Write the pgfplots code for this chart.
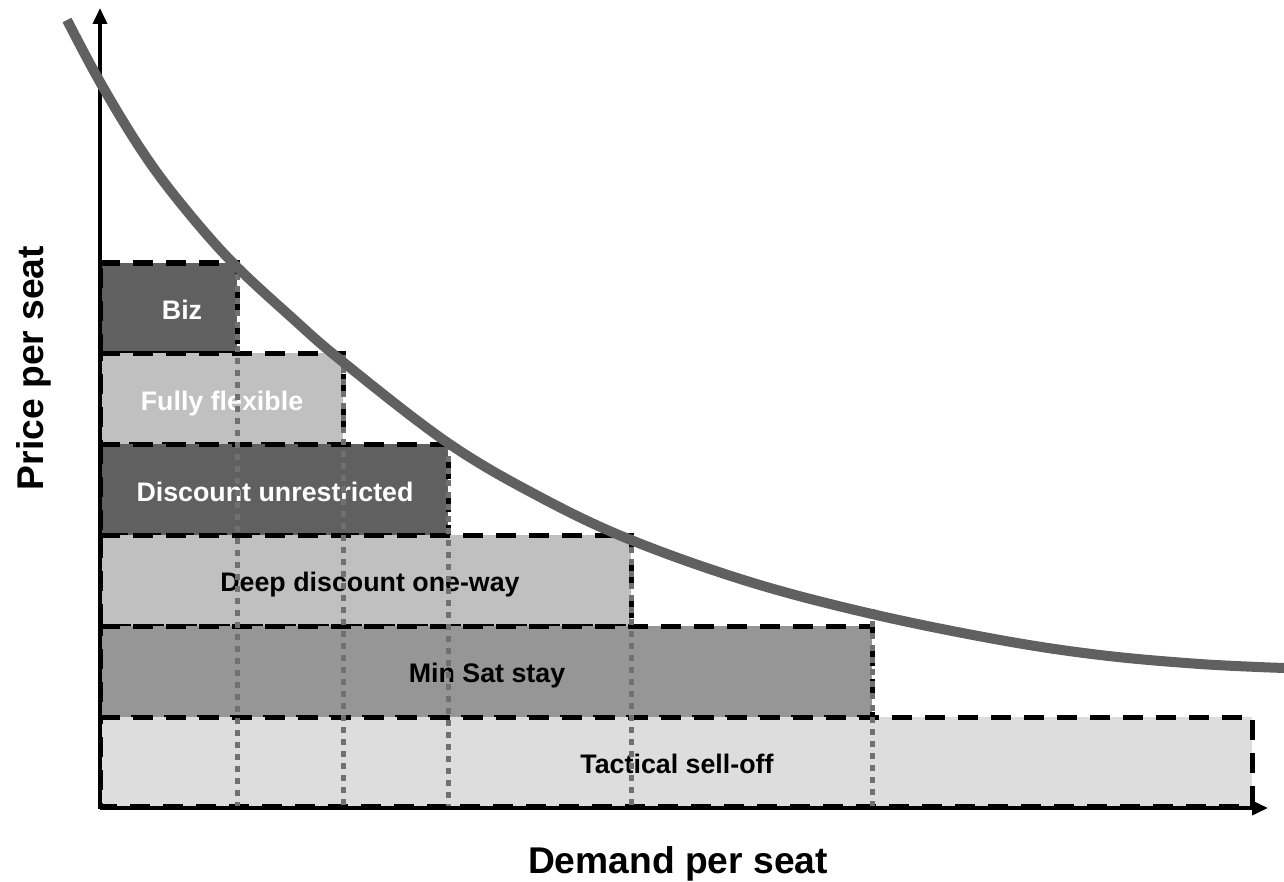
\documentclass[border=0pt]{standalone}
\usepackage{pgfplots}
\pgfplotsset{compat=1.18}
\usetikzlibrary{arrows.meta}
\usepackage{fontspec}
\setmainfont{Liberation Sans}
\definecolor{dk}{HTML}{606060}
\definecolor{lt}{HTML}{C0C0C0}
\definecolor{md}{HTML}{969696}
\definecolor{vl}{HTML}{DDDDDD}
\definecolor{dotg}{HTML}{707070}
\begin{document}
\begin{tikzpicture}
\begin{axis}[
  width=642pt, height=441pt, scale only axis,
  xmin=0, xmax=1284, ymin=0, ymax=882, y dir=reverse,
  hide axis, clip=false,
]
\tikzset{box/.style={draw=black, line width=2.5pt, dash pattern=on 10pt off 6.5pt},
  lab/.style={font=\fontsize{13.4}{16}\selectfont\bfseries, anchor=base},
  dotl/.style={dotg, line width=2.5pt, dash pattern=on 3pt off 3pt}}
% boxes
\addplot[box, fill=dk] coordinates {(100,263) (237,263) (237,353) (100,353)} -- cycle;
\addplot[box, fill=lt] coordinates {(100,353) (343,353) (343,444) (100,444)} -- cycle;
\addplot[box, fill=dk] coordinates {(100,444) (448,444) (448,535) (100,535)} -- cycle;
\addplot[box, fill=lt] coordinates {(100,535) (631,535) (631,626) (100,626)} -- cycle;
\addplot[box, fill=md] coordinates {(100,626) (872,626) (872,717) (100,717)} -- cycle;
\addplot[box, fill=vl] coordinates {(100,717) (1252,717) (1252,806) (100,806)} -- cycle;
% labels
\node[lab, text=white] at (182,319) {Biz};
\node[lab, text=white] at (222,410) {Fully flexible};
\node[lab, text=white] at (275,501) {Discount unrestricted};
\node[lab, text=black] at (370,591) {Deep discount one-way};
\node[lab, text=black] at (487,682) {Min Sat stay};
\node[lab, text=black] at (677,773) {Tactical sell-off};
% dotted verticals
\addplot[dotl] coordinates {(237,262) (237,806)};
\addplot[dotl] coordinates {(343,355) (343,806)};
\addplot[dotl] coordinates {(448,444) (448,806)};
\addplot[dotl] coordinates {(631,535) (631,806)};
\addplot[dotl] coordinates {(872,609) (872,806)};
% axes
\addplot[black, line width=1.8pt, -{Triangle[length=8pt,width=7pt]}] coordinates {(100,808) (100,8)};
\addplot[black, line width=1.8pt, -{Triangle[length=8pt,width=7pt]}] coordinates {(100,808) (1268,808)};
% demand curve
\addplot[dk, line width=5pt, smooth, tension=0.6] coordinates {
 (67,20) (100,82) (140,148) (178,200) (230,260) (290,316) (343,362) (448,443) (540,497) (631,540) (750,582) (872,614) (1000,640) (1100,655) (1200,664) (1284,668)};
% axis titles
\node[font=\fontsize{18.6}{22}\selectfont\bfseries, anchor=base] at (678,873) {Demand per seat};
\node[font=\fontsize{18.6}{22}\selectfont\bfseries, rotate=90, anchor=base] at (43,368) {Price per seat};
\end{axis}
\pgfresetboundingbox
\path (0,0) rectangle (642pt,441pt);
\end{tikzpicture}
\end{document}
